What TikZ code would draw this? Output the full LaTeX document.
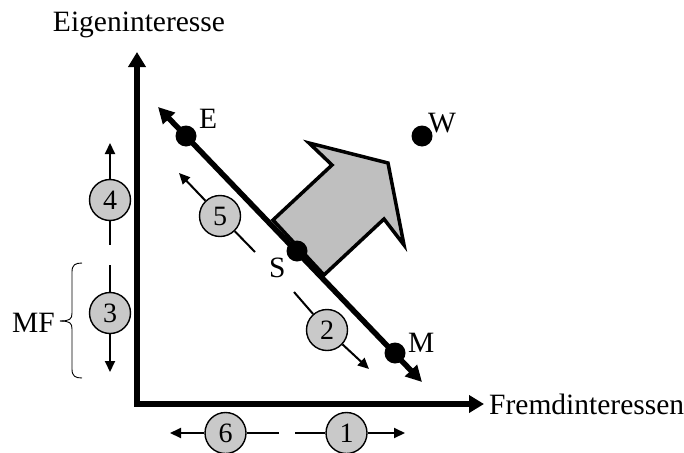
\documentclass[tikz,border=0pt]{standalone}
\usepackage{fontspec}
\setmainfont{Liberation Serif}
\usetikzlibrary{arrows.meta}
\tikzset{
  big/.style={line width=5.5pt},
  thin/.style={line width=2pt},
  thintip/.style={-{Triangle[length=11pt,width=10pt]}},
  dot/.style={circle,fill=black,inner sep=0pt,minimum size=21pt},
  num/.style={circle,draw=black,line width=1.4pt,fill=gray!42,inner sep=0pt,minimum size=41pt,font=\fontsize{28}{30}\selectfont},
  lbl/.style={inner sep=0pt,font=\fontsize{29.5}{33}\selectfont},
}
\begin{document}
\begin{tikzpicture}[x=1pt,y=-1pt]
\useasboundingbox (0,0) rectangle (684,452);
% axes
\coordinate (O) at (137,404);
\coordinate (ytip) at (137,52);
\coordinate (xtip) at (484,404);
\draw[big,line join=miter,{Triangle[length=15pt,width=17pt]}-{Triangle[length=15pt,width=17pt]}] (ytip) -- (O) -- (xtip);
\node[lbl,anchor=base] (ylab) at (139,31) {Eigeninteresse};
\node[lbl,anchor=base west] (xlab) at (489,414) {Fremdinteressen};
% gray arrow
\coordinate (p1) at (273,220);
\coordinate (p2) at (332,165);
\coordinate (p3) at (309,143);
\coordinate (p4) at (388,163);
\coordinate (p5) at (404,245);
\coordinate (p6) at (384,219);
\coordinate (p7) at (324,275);
\draw[line width=3.5pt,fill=gray!50,line join=miter] (p1) -- (p2) -- (p3) -- (p4) -- (p5) -- (p6) -- (p7) -- cycle;
% main diagonal
\coordinate (ms) at (158,107);
\coordinate (me) at (422,382);
\draw[big,{Triangle[length=16pt,width=16pt]}-{Triangle[length=16pt,width=16pt]}] (ms) -- (me);
\node[dot] (E) at (186,136) {};
\node[dot] (S) at (297,251) {};
\node[dot] (M) at (395,353) {};
\node[dot] (W) at (422,136) {};
\node[lbl,anchor=base west] (Elab) at (199,128) {E};
\node[lbl,anchor=base west] (Slab) at (269,277) {S};
\node[lbl,anchor=base west] (Mlab) at (408,352) {M};
\node[lbl,anchor=base west] (Wlab) at (428,132) {W};
% numbered arrows
\node[num] (c5) at (220,216) {5};
\coordinate (a5t) at (179,173);
\coordinate (a5s) at (255,252);
\draw[thin] (c5) -- (a5s);
\draw[thin,thintip] (c5) -- (a5t);
\node[num] (c2) at (327,330) {2};
\coordinate (a2s) at (294,292);
\coordinate (a2t) at (369,369);
\draw[thin] (c2) -- (a2s);
\draw[thin,thintip] (c2) -- (a2t);
\node[num] (c4) at (110,200) {4};
\coordinate (a4s) at (110,245);
\coordinate (a4t) at (110,143);
\draw[thin] (c4) -- (a4s);
\draw[thin,thintip] (c4) -- (a4t);
\node[num] (c3) at (110,313) {3};
\coordinate (a3s) at (110,265);
\coordinate (a3t) at (110,372);
\draw[thin] (c3) -- (a3s);
\draw[thin,thintip] (c3) -- (a3t);
\node[num] (c6) at (225.5,433) {6};
\coordinate (a6s) at (279,433);
\coordinate (a6t) at (170,433);
\draw[thin] (c6) -- (a6s);
\draw[thin,thintip] (c6) -- (a6t);
\node[num] (c1) at (346.5,433) {1};
\coordinate (a1s) at (295,433);
\coordinate (a1t) at (405,433);
\draw[thin] (c1) -- (a1s);
\draw[thin,thintip] (c1) -- (a1t);
% brace MF
\coordinate (bt) at (82,263);
\coordinate (bb) at (82,378);
\coordinate (bm) at (60,321);
\draw[line width=0.9pt] (bt) .. controls (75,263) and (72,265) .. (72,272) -- (72,313) .. controls (72,319) and (70,321) .. (bm);
\draw[line width=0.9pt] (bb) .. controls (75,378) and (72,376) .. (72,369) -- (72,329) .. controls (72,323) and (70,321) .. (bm);
\node[lbl,anchor=base east] (MF) at (55,332) {MF};
\end{tikzpicture}
\end{document}
